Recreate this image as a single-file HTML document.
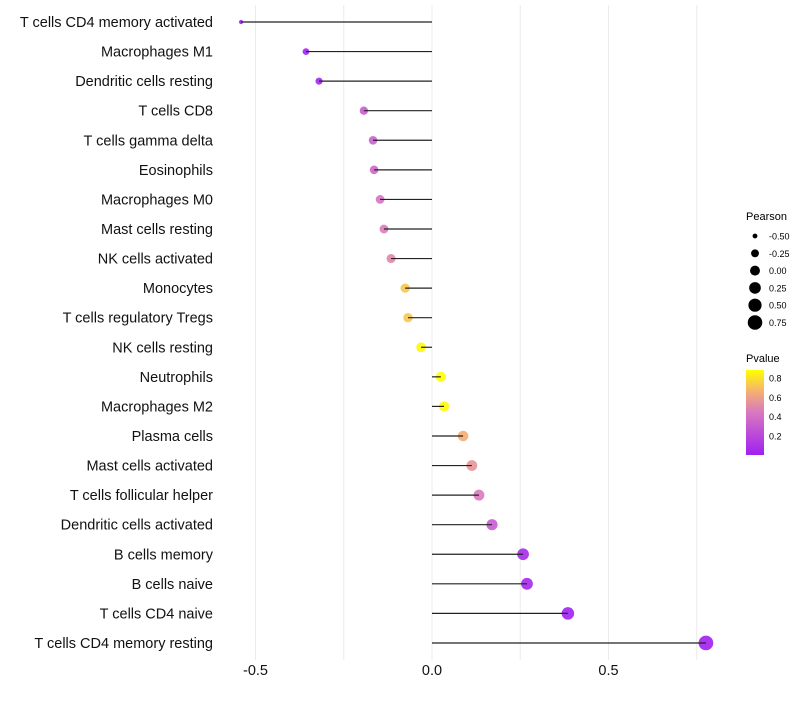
<!DOCTYPE html>
<html><head><meta charset="utf-8"><style>
body{margin:0;background:#fff;font-family:"Liberation Sans",sans-serif}
</style></head><body>
<svg id="chart" width="800" height="700" font-family="Liberation Sans, sans-serif">
<defs><linearGradient id="pg" x1="0" y1="1" x2="0" y2="0">
<stop offset="0" stop-color="#A020F0"/><stop offset="0.5" stop-color="#D878C0"/><stop offset="0.75" stop-color="#F5B070"/><stop offset="1" stop-color="#FFFF00"/></linearGradient></defs>
<g id="grid"></g><g id="pts"></g><g id="marks"></g><g id="labels"></g><g id="xaxis"></g>
<g id="legend">
<text x="746" y="220" font-size="11">Pearson</text>
<text x="746" y="362" font-size="11">Pvalue</text>
<rect x="746" y="370" width="18" height="85" fill="url(#pg)"/>
</g>
</svg>
<script>
const categories=["T cells CD4 memory activated","Macrophages M1","Dendritic cells resting","T cells CD8","T cells gamma delta","Eosinophils","Macrophages M0","Mast cells resting","NK cells activated","Monocytes","T cells regulatory  Tregs ","NK cells resting","Neutrophils","Macrophages M2","Plasma cells","Mast cells activated","T cells follicular helper","Dendritic cells activated","B cells memory","B cells naive","T cells CD4 naive","T cells CD4 memory resting"];
const pearson=[-0.541,-0.357,-0.32,-0.193,-0.167,-0.164,-0.147,-0.136,-0.116,-0.076,-0.068,-0.031,0.025,0.034,0.088,0.113,0.133,0.170,0.258,0.269,0.385,0.776];
const pvalue=[0.01,0.02,0.03,0.3,0.33,0.35,0.42,0.45,0.5,0.72,0.72,0.86,0.88,0.87,0.65,0.55,0.45,0.3,0.05,0.04,0.01,0.001];
const xTicks=[-0.5,0,0.5];
const xGrid=[-0.5,-0.25,0,0.25,0.5,0.75];
const sizeLegend=[-0.5,-0.25,0,0.25,0.5,0.75];
const colorTicks=[0.8,0.6,0.4,0.2];
const NS="http://www.w3.org/2000/svg";
const x=v=>432+v*353;
const y=i=>22+i*29.57;
const r=v=>Math.sqrt(4+Math.max(0,(v+0.55))/1.33*50);
const cy=p=>455-(p-0.003)/(0.88)*85;
function mk(t,a,parent){const e=document.createElementNS(NS,t);for(const k in a)e.setAttribute(k,a[k]);document.getElementById(parent).appendChild(e);return e;}
function lerp(a,b,t){return a.map((v,i)=>Math.round(v+(b[i]-v)*t));}
function col(p){const s=[[0,[160,32,240]],[0.44,[216,120,192]],[0.66,[245,176,112]],[0.88,[255,255,0]]];
 if(p<=0)return 'rgb(160,32,240)';for(let i=1;i<s.length;i++){if(p<=s[i][0]){const c=lerp(s[i-1][1],s[i][1],(p-s[i-1][0])/(s[i][0]-s[i-1][0]));return `rgb(${c})`;}}return 'rgb(255,255,0)';}
xGrid.forEach(v=>{const e=mk('line',{x1:x(v),x2:x(v),y1:5,y2:660,stroke:'#ebebeb','stroke-width':1},'grid');

});
categories.forEach((c,i)=>{
 const d=mk('circle',{cx:x(pearson[i]),cy:y(i),r:r(pearson[i]),fill:col(pvalue[i]),'fill-opacity':0.9},'pts');
 
 
 const l=mk('line',{x1:x(0),x2:x(pearson[i]),y1:y(i),y2:y(i),stroke:'#222','stroke-width':1.2},'marks');
 
 
 const t=mk('text',{x:213,y:y(i)+5,'text-anchor':'end','font-size':14.5,fill:'#111'},'labels');
 t.textContent=c;
 
 
});
xTicks.forEach(v=>{const t=mk('text',{x:x(v),y:675,'text-anchor':'middle','font-size':14.5,fill:'#111'},'xaxis');
t.textContent=v===0?'0.0':v.toFixed(1);

});
sizeLegend.forEach((v,i)=>{const yy=236+i*17.3;
const c=mk('circle',{cx:755,cy:yy,r:r(v),fill:'#000'},'legend');


const t=mk('text',{x:769,y:yy+3.5,'font-size':9},'legend');
t.textContent=v.toFixed(2);

});
colorTicks.forEach(v=>{const t=mk('text',{x:769,y:cy(v)+3.5,'font-size':9},'legend');
t.textContent=v.toFixed(1);

});
</script>
</body></html>
